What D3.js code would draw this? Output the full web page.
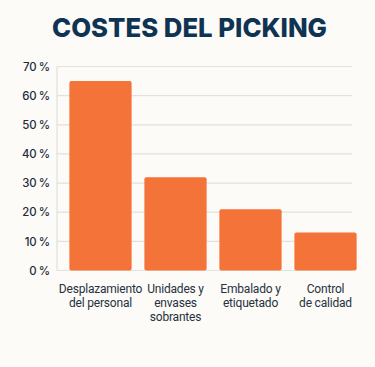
<!DOCTYPE html>
<html>
<head>
<meta charset="utf-8">
<script src="https://cdn.jsdelivr.net/npm/d3@7"></script>
<style>
  html, body { margin: 0; padding: 0; background: #fcfbf7; }
  svg { display: block; }
</style>
</head>
<body>
<svg id="chart" width="375" height="367"></svg>
<script>
const title = "COSTES DEL PICKING";
const categories = [
  ["Desplazamiento", "del personal"],
  ["Unidades y", "envases", "sobrantes"],
  ["Embalado y", "etiquetado"],
  ["Control", "de calidad"]
];
const values = [65, 32, 21, 13];
const tickValues = [0, 10, 20, 30, 40, 50, 60, 70];
const tickLabels = ["0\u2009%", "10\u2009%", "20\u2009%", "30\u2009%", "40\u2009%", "50\u2009%", "60\u2009%", "70\u2009%"];

const FONT = "Inter, Roboto, sans-serif";
const LABEL_FONT = "Roboto, Inter, sans-serif";
const svg = d3.select("#chart");
svg.append("rect").attr("width", 375).attr("height", 367).attr("fill", "#fcfbf7");

const plotLeft = 57, plotRight = 352, plotTop = 66.5, plotBottom = 270.5;

const y = d3.scaleLinear().domain([0, 70]).range([plotBottom, plotTop]);
const x = d3.scaleBand().domain(d3.range(categories.length)).range([63, 363]).paddingInner(0.17).paddingOuter(0.085);

function fit(sel, target) {
  const n = sel.node();
  const fs = parseFloat(sel.attr("font-size"));
  const w = n.getComputedTextLength();
  if (w > 0) sel.attr("font-size", (fs * target / w).toFixed(2));
}

// title
const tt = svg.append("text")
  .attr("x", 189.5).attr("y", 37)
  .attr("text-anchor", "middle")
  .attr("font-family", FONT)
  .attr("font-weight", 800)
  .attr("font-size", 26)
  .attr("fill", "#0f3352")
  .text(title);
fit(tt, 275);

// gridlines
svg.append("g").selectAll("line").data(tickValues).join("line")
  .attr("x1", plotLeft).attr("x2", plotRight)
  .attr("y1", d => y(d)).attr("y2", d => y(d))
  .attr("stroke", "#e3e1dc").attr("stroke-width", 1.2);

// left axis line
svg.append("line")
  .attr("x1", plotLeft).attr("x2", plotLeft)
  .attr("y1", plotTop).attr("y2", plotBottom)
  .attr("stroke", "#e3e1dc").attr("stroke-width", 1.2);

// y axis labels
const yAxis = d3.axisLeft(y).tickValues(tickValues).tickSize(0).tickPadding(0)
  .tickFormat((d, i) => tickLabels[i]);
const yg = svg.append("g").attr("transform", `translate(50,0)`).call(yAxis);
yg.select(".domain").remove();
yg.selectAll("text")
  .attr("font-family", FONT)
  .attr("font-size", 13)
  .attr("font-weight", 500)
  .attr("fill", "#1d2b3d");
{
  const t70 = yg.selectAll("text").filter(d => d === 70);
  const w = t70.node().getComputedTextLength();
  if (w > 0) yg.selectAll("text").attr("font-size", (13 * 27 / w).toFixed(2));
}

// bars
svg.append("g").selectAll("rect").data(values).join("rect")
  .attr("x", (d, i) => x(i))
  .attr("width", x.bandwidth())
  .attr("y", d => y(d))
  .attr("height", d => y(0) - y(d))
  .attr("rx", 2)
  .attr("fill", "#f47338");

// category labels
const lab = svg.append("g");
categories.forEach((lines, i) => {
  const t = lab.append("text")
    .attr("text-anchor", "middle")
    .attr("font-family", LABEL_FONT)
    .attr("font-size", 12)
    .attr("letter-spacing", -0.2)
    .attr("fill", "#27313f");
  lines.forEach((ln, j) => {
    t.append("tspan")
      .attr("x", x(i) + x.bandwidth() / 2)
      .attr("y", 293 + j * 14)
      .text(ln);
  });
});
</script>
</body>
</html>
